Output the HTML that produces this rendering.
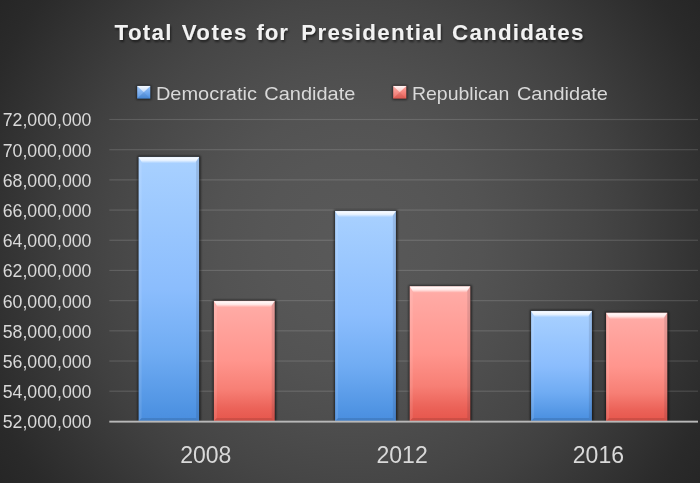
<!DOCTYPE html>
<html><head><meta charset="utf-8"><title>Total Votes for Presidential Candidates</title>
<style>
html,body{margin:0;padding:0;background:#262626;}
body{width:700px;height:483px;overflow:hidden;}
svg{display:block;}
text{font-family:"Liberation Sans",sans-serif;}
</style></head><body>
<svg width="700" height="483" viewBox="0 0 700 483">
<defs>
<radialGradient id="bg" cx="350" cy="241.5" r="425.2" gradientUnits="userSpaceOnUse">
<stop offset="0" stop-color="#595959"/><stop offset="0.2" stop-color="#565656"/><stop offset="0.31" stop-color="#535353"/><stop offset="0.418" stop-color="#4e4e4e"/><stop offset="0.568" stop-color="#464646"/><stop offset="0.657" stop-color="#404040"/><stop offset="0.8" stop-color="#343434"/><stop offset="0.92" stop-color="#2a2a2a"/><stop offset="1" stop-color="#262626"/></radialGradient>
<linearGradient id="gb" x1="0" y1="0" x2="0" y2="1">
<stop offset="0" stop-color="#a9d1ff"/><stop offset="0.5" stop-color="#8bbdfd"/><stop offset="0.74" stop-color="#70acf3"/><stop offset="0.95" stop-color="#5094e3"/><stop offset="1" stop-color="#4a8edf"/></linearGradient>
<linearGradient id="gr" x1="0" y1="0" x2="0" y2="1">
<stop offset="0" stop-color="#ffada8"/><stop offset="0.5" stop-color="#ff958d"/><stop offset="0.74" stop-color="#f77f75"/><stop offset="0.9" stop-color="#eb6258"/><stop offset="1" stop-color="#e6564c"/></linearGradient>
<linearGradient id="hl" x1="0" y1="0" x2="0" y2="1">
<stop offset="0" stop-color="#fff" stop-opacity="0.7"/><stop offset="0.2" stop-color="#fff" stop-opacity="0.9"/><stop offset="0.55" stop-color="#fff" stop-opacity="0.7"/><stop offset="0.85" stop-color="#fff" stop-opacity="0.2"/><stop offset="1" stop-color="#fff" stop-opacity="0"/></linearGradient>
<linearGradient id="lb" x1="0" y1="0" x2="0" y2="1">
<stop offset="0" stop-color="#9cc6fb"/><stop offset="1" stop-color="#4a8ee2"/></linearGradient>
<linearGradient id="lr" x1="0" y1="0" x2="0" y2="1">
<stop offset="0" stop-color="#ffa6a0"/><stop offset="1" stop-color="#ea5f56"/></linearGradient>
<linearGradient id="hs" x1="0" y1="0" x2="0" y2="1"><stop offset="0" stop-color="#fff" stop-opacity="0.9"/><stop offset="1" stop-color="#fff" stop-opacity="0.5"/></linearGradient>
<filter id="sh" x="-20%" y="-20%" width="140%" height="140%"><feGaussianBlur stdDeviation="1.3"/></filter>
<filter id="sh2" x="-30%" y="-30%" width="160%" height="160%"><feGaussianBlur stdDeviation="1"/></filter>
<filter id="ts" x="-5%" y="-30%" width="110%" height="170%"><feGaussianBlur in="SourceAlpha" stdDeviation="1.2" result="b"/><feOffset in="b" dx="1" dy="1.5" result="o"/><feComponentTransfer in="o" result="s"><feFuncA type="linear" slope="0.55"/></feComponentTransfer><feMerge><feMergeNode in="s"/><feMergeNode in="SourceGraphic"/></feMerge></filter>
</defs>
<rect width="700" height="483" fill="url(#bg)"/>
<rect x="109.3" y="118.90" width="588.7" height="1.2" fill="#f2f2f2" fill-opacity="0.15"/>
<rect x="109.3" y="149.09" width="588.7" height="1.2" fill="#f2f2f2" fill-opacity="0.15"/>
<rect x="109.3" y="179.28" width="588.7" height="1.2" fill="#f2f2f2" fill-opacity="0.15"/>
<rect x="109.3" y="209.47" width="588.7" height="1.2" fill="#f2f2f2" fill-opacity="0.15"/>
<rect x="109.3" y="239.66" width="588.7" height="1.2" fill="#f2f2f2" fill-opacity="0.15"/>
<rect x="109.3" y="269.85" width="588.7" height="1.2" fill="#f2f2f2" fill-opacity="0.15"/>
<rect x="109.3" y="300.04" width="588.7" height="1.2" fill="#f2f2f2" fill-opacity="0.15"/>
<rect x="109.3" y="330.23" width="588.7" height="1.2" fill="#f2f2f2" fill-opacity="0.15"/>
<rect x="109.3" y="360.42" width="588.7" height="1.2" fill="#f2f2f2" fill-opacity="0.15"/>
<rect x="109.3" y="390.61" width="588.7" height="1.2" fill="#f2f2f2" fill-opacity="0.15"/>
<rect x="137.6" y="155.9" width="63.0" height="265.1" fill="#000" fill-opacity="0.6" filter="url(#sh)"/>
<rect x="212.9" y="299.9" width="63.3" height="121.1" fill="#000" fill-opacity="0.6" filter="url(#sh)"/>
<rect x="334.1" y="209.9" width="63.3" height="211.1" fill="#000" fill-opacity="0.6" filter="url(#sh)"/>
<rect x="408.7" y="285.3" width="63.1" height="135.7" fill="#000" fill-opacity="0.6" filter="url(#sh)"/>
<rect x="530.1" y="309.9" width="63.3" height="111.1" fill="#000" fill-opacity="0.6" filter="url(#sh)"/>
<rect x="605.1" y="311.8" width="63.7" height="109.2" fill="#000" fill-opacity="0.6" filter="url(#sh)"/>
<rect x="138.6" y="156.9" width="60.5" height="264.1" fill="url(#gb)"/>
<path d="M138.6 156.9H199.1L195.1 163.4H142.6Z" fill="url(#hl)"/>
<path d="M138.6 156.9L141.6 160.9V418.0L138.6 421.0Z" fill="#fff" fill-opacity="0.10"/>
<path d="M199.1 156.9L196.1 160.9V418.0L199.1 421.0Z" fill="#223" fill-opacity="0.12"/>
<path d="M138.6 421.0L141.6 418.0H196.1L199.1 421.0Z" fill="#000" fill-opacity="0.11"/>
<rect x="213.9" y="300.9" width="60.8" height="120.1" fill="url(#gr)"/>
<path d="M213.9 300.9H274.7L270.7 307.4H217.9Z" fill="url(#hl)"/>
<path d="M213.9 300.9L216.9 304.9V418.0L213.9 421.0Z" fill="#fff" fill-opacity="0.10"/>
<path d="M274.7 300.9L271.7 304.9V418.0L274.7 421.0Z" fill="#223" fill-opacity="0.12"/>
<path d="M213.9 421.0L216.9 418.0H271.7L274.7 421.0Z" fill="#000" fill-opacity="0.11"/>
<rect x="335.1" y="210.9" width="60.8" height="210.1" fill="url(#gb)"/>
<path d="M335.1 210.9H395.9L391.9 217.4H339.1Z" fill="url(#hl)"/>
<path d="M335.1 210.9L338.1 214.9V418.0L335.1 421.0Z" fill="#fff" fill-opacity="0.10"/>
<path d="M395.9 210.9L392.9 214.9V418.0L395.9 421.0Z" fill="#223" fill-opacity="0.12"/>
<path d="M335.1 421.0L338.1 418.0H392.9L395.9 421.0Z" fill="#000" fill-opacity="0.11"/>
<rect x="409.7" y="286.3" width="60.6" height="134.7" fill="url(#gr)"/>
<path d="M409.7 286.3H470.3L466.3 292.8H413.7Z" fill="url(#hl)"/>
<path d="M409.7 286.3L412.7 290.3V418.0L409.7 421.0Z" fill="#fff" fill-opacity="0.10"/>
<path d="M470.3 286.3L467.3 290.3V418.0L470.3 421.0Z" fill="#223" fill-opacity="0.12"/>
<path d="M409.7 421.0L412.7 418.0H467.3L470.3 421.0Z" fill="#000" fill-opacity="0.11"/>
<rect x="531.1" y="310.9" width="60.8" height="110.1" fill="url(#gb)"/>
<path d="M531.1 310.9H591.9L587.9 317.4H535.1Z" fill="url(#hl)"/>
<path d="M531.1 310.9L534.1 314.9V418.0L531.1 421.0Z" fill="#fff" fill-opacity="0.10"/>
<path d="M591.9 310.9L588.9 314.9V418.0L591.9 421.0Z" fill="#223" fill-opacity="0.12"/>
<path d="M531.1 421.0L534.1 418.0H588.9L591.9 421.0Z" fill="#000" fill-opacity="0.11"/>
<rect x="606.1" y="312.8" width="61.2" height="108.2" fill="url(#gr)"/>
<path d="M606.1 312.8H667.3L663.3 319.3H610.1Z" fill="url(#hl)"/>
<path d="M606.1 312.8L609.1 316.8V418.0L606.1 421.0Z" fill="#fff" fill-opacity="0.10"/>
<path d="M667.3 312.8L664.3 316.8V418.0L667.3 421.0Z" fill="#223" fill-opacity="0.12"/>
<path d="M606.1 421.0L609.1 418.0H664.3L667.3 421.0Z" fill="#000" fill-opacity="0.11"/>
<rect x="109.3" y="420.7" width="588.7" height="1.9" fill="#b8b8b8"/>
<text x="2.7" y="126.4" font-size="17.9" fill="#d9d9d9" textLength="88.8" lengthAdjust="spacingAndGlyphs">72,000,000</text>
<text x="2.7" y="156.6" font-size="17.9" fill="#d9d9d9" textLength="88.8" lengthAdjust="spacingAndGlyphs">70,000,000</text>
<text x="2.7" y="186.8" font-size="17.9" fill="#d9d9d9" textLength="88.8" lengthAdjust="spacingAndGlyphs">68,000,000</text>
<text x="2.7" y="217.0" font-size="17.9" fill="#d9d9d9" textLength="88.8" lengthAdjust="spacingAndGlyphs">66,000,000</text>
<text x="2.7" y="247.2" font-size="17.9" fill="#d9d9d9" textLength="88.8" lengthAdjust="spacingAndGlyphs">64,000,000</text>
<text x="2.7" y="277.4" font-size="17.9" fill="#d9d9d9" textLength="88.8" lengthAdjust="spacingAndGlyphs">62,000,000</text>
<text x="2.7" y="307.5" font-size="17.9" fill="#d9d9d9" textLength="88.8" lengthAdjust="spacingAndGlyphs">60,000,000</text>
<text x="2.7" y="337.7" font-size="17.9" fill="#d9d9d9" textLength="88.8" lengthAdjust="spacingAndGlyphs">58,000,000</text>
<text x="2.7" y="367.9" font-size="17.9" fill="#d9d9d9" textLength="88.8" lengthAdjust="spacingAndGlyphs">56,000,000</text>
<text x="2.7" y="398.1" font-size="17.9" fill="#d9d9d9" textLength="88.8" lengthAdjust="spacingAndGlyphs">54,000,000</text>
<text x="2.7" y="428.3" font-size="17.9" fill="#d9d9d9" textLength="88.8" lengthAdjust="spacingAndGlyphs">52,000,000</text>
<text x="205.8" y="463.2" font-size="23.1" fill="#d9d9d9" text-anchor="middle" textLength="51.2" lengthAdjust="spacingAndGlyphs">2008</text>
<text x="402.1" y="463.2" font-size="23.1" fill="#d9d9d9" text-anchor="middle" textLength="51.2" lengthAdjust="spacingAndGlyphs">2012</text>
<text x="598.4" y="463.2" font-size="23.1" fill="#d9d9d9" text-anchor="middle" textLength="51.2" lengthAdjust="spacingAndGlyphs">2016</text>
<rect x="136.4" y="85.3" width="14.9" height="14.5" fill="#000" fill-opacity="0.55" filter="url(#sh2)"/><rect x="137.2" y="85.9" width="13.1" height="12.7" fill="url(#lb)"/><path d="M137.2 85.9h13.1L143.75 92.25z" fill="url(#hs)"/><path d="M137.2 85.9v12.7L143.75 92.25z" fill="#fff" fill-opacity="0.1"/><path d="M137.2 98.6h13.1L143.75 92.25z" fill="#000" fill-opacity="0.06"/>
<text x="155.9" y="100.2" font-size="18.4" fill="#d9d9d9"><tspan textLength="101" lengthAdjust="spacingAndGlyphs">Democratic</tspan> <tspan x="264.3" textLength="91" lengthAdjust="spacingAndGlyphs">Candidate</tspan></text>
<rect x="392.4" y="85.3" width="14.9" height="14.5" fill="#000" fill-opacity="0.55" filter="url(#sh2)"/><rect x="393.2" y="85.9" width="13.1" height="12.7" fill="url(#lr)"/><path d="M393.2 85.9h13.1L399.75 92.25z" fill="url(#hs)"/><path d="M393.2 85.9v12.7L399.75 92.25z" fill="#fff" fill-opacity="0.1"/><path d="M393.2 98.6h13.1L399.75 92.25z" fill="#000" fill-opacity="0.06"/>
<text x="411.9" y="100.2" font-size="18.4" fill="#d9d9d9"><tspan textLength="97.5" lengthAdjust="spacingAndGlyphs">Republican</tspan> <tspan x="516.9" textLength="91" lengthAdjust="spacingAndGlyphs">Candidate</tspan></text>
<text y="39.6" font-size="22.3" font-weight="bold" fill="#f2f2f2" filter="url(#ts)"><tspan x="114.6" textLength="56.9" lengthAdjust="spacing">Total</tspan> <tspan x="181.7" textLength="64.8" lengthAdjust="spacing">Votes</tspan> <tspan x="256.5" textLength="31.5" lengthAdjust="spacing">for</tspan> <tspan x="301.2" textLength="140.9" lengthAdjust="spacing">Presidential</tspan> <tspan x="452.1" textLength="131.2" lengthAdjust="spacing">Candidates</tspan> </text>
</svg></body></html>
